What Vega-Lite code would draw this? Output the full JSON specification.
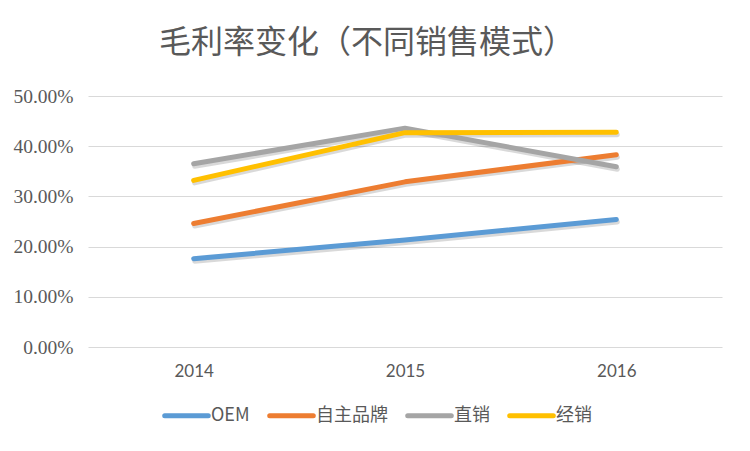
{
  "$schema": "https://vega.github.io/schema/vega-lite/v6.json",
  "width": 634,
  "height": 251,
  "autosize": {"type": "none"},
  "padding": {"left": 88, "top": 96, "right": 28, "bottom": 104},
  "background": "white",
  "title": {
    "text": "毛利率变化（不同销售模式）",
    "font": "Noto Sans CJK SC",
    "fontSize": 32,
    "fontWeight": "normal",
    "color": "#595959",
    "anchor": "middle",
    "dx": -38,
    "offset": 26
  },
  "data": {
    "values": [
      {"year": "2014", "series": "OEM", "value": 0.176},
      {"year": "2015", "series": "OEM", "value": 0.213},
      {"year": "2016", "series": "OEM", "value": 0.254},
      {"year": "2014", "series": "自主品牌", "value": 0.246},
      {"year": "2015", "series": "自主品牌", "value": 0.329},
      {"year": "2016", "series": "自主品牌", "value": 0.383},
      {"year": "2014", "series": "直销", "value": 0.365},
      {"year": "2015", "series": "直销", "value": 0.436},
      {"year": "2016", "series": "直销", "value": 0.359},
      {"year": "2014", "series": "经销", "value": 0.332},
      {"year": "2015", "series": "经销", "value": 0.427},
      {"year": "2016", "series": "经销", "value": 0.428}
    ]
  },
  "encoding": {
    "x": {
      "field": "year",
      "type": "ordinal",
      "scale": {"type": "point", "padding": 0.5},
      "axis": {
        "title": null,
        "labelAngle": 0,
        "domain": false,
        "ticks": false,
        "grid": false,
        "labelFont": "Lato",
        "labelFontSize": 17,
        "labelColor": "#595959",
        "labelPadding": 16
      }
    },
    "y": {
      "field": "value",
      "type": "quantitative",
      "scale": {"domain": [0, 0.5]},
      "axis": {
        "title": null,
        "format": ".2%",
        "values": [0, 0.1, 0.2, 0.3, 0.4, 0.5],
        "domain": false,
        "ticks": false,
        "labelFont": "Liberation Serif",
        "labelFontSize": 19.5,
        "labelColor": "#595959",
        "labelPadding": 15,
        "gridColor": "#d9d9d9",
        "gridWidth": 1
      }
    }
  },
  "layer": [
    {
      "mark": {"type": "line", "strokeWidth": 5, "strokeCap": "round", "strokeJoin": "round", "color": "#000000", "opacity": 0.15, "xOffset": 1, "yOffset": 2.5},
      "encoding": {"detail": {"field": "series"}}
    },
    {
      "mark": {"type": "line", "strokeWidth": 5, "strokeCap": "round", "strokeJoin": "round"},
      "encoding": {
        "color": {
          "field": "series",
          "type": "nominal",
          "sort": ["OEM", "自主品牌", "直销", "经销"],
          "scale": {
            "domain": ["OEM", "自主品牌", "直销", "经销"],
            "range": ["#5B9BD5", "#ED7D31", "#A5A5A5", "#FFC000"]
          },
          "legend": {
            "title": null,
            "orient": "none",
            "direction": "horizontal",
            "legendX": 74,
            "legendY": 295,
            "symbolType": "M-1,0H1",
            "symbolSize": 1900,
            "symbolStrokeWidth": 5,
            "labelFont": "Noto Sans CJK SC",
            "labelFontSize": 18,
            "labelColor": "#595959",
            "labelOffset": 0,
            "columnPadding": 9,
            "encode": {"symbols": {"update": {"strokeCap": {"value": "round"}}}}
          }
        }
      }
    }
  ],
  "config": {"view": {"stroke": null}}
}
